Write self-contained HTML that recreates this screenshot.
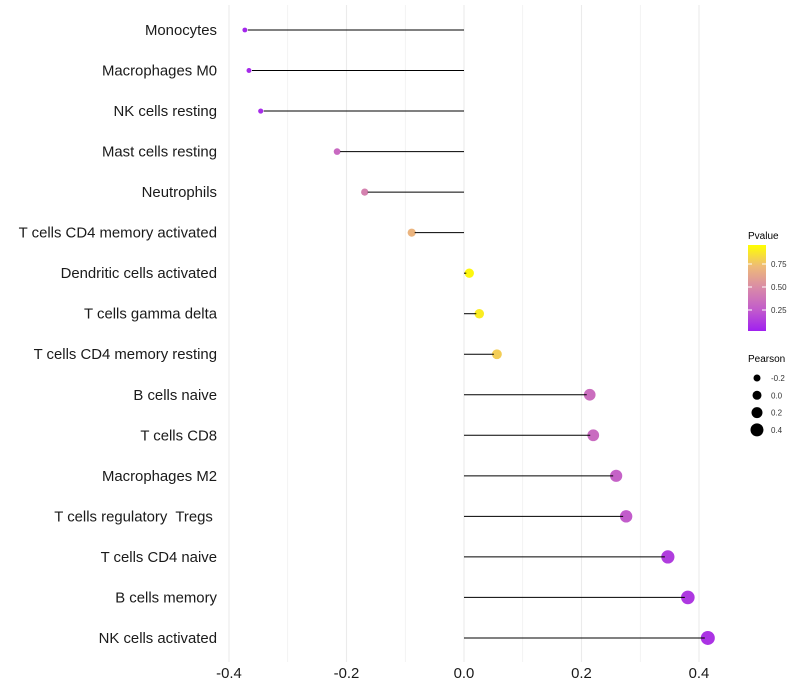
<!DOCTYPE html>
<html><head><meta charset="utf-8"><style>
body{margin:0;background:#fff;font-family:"Liberation Sans",sans-serif}
svg{display:block}
text{white-space:pre}
</style></head><body>
<svg id="chart" width="800" height="700" xmlns="http://www.w3.org/2000/svg">
<defs><linearGradient id="pg" x1="0" y1="1" x2="0" y2="0">
<stop offset="0" stop-color="#A020F0"/><stop offset="0.25" stop-color="#C25CCB"/><stop offset="0.5" stop-color="#D98AA8"/><stop offset="0.75" stop-color="#EEBA78"/><stop offset="1" stop-color="#FFFF00"/></linearGradient></defs>
<g id="grid"></g>
<g id="marks"></g>
<g id="ylabels"></g>
<g id="xlabels"></g>
<g>
<text x="748" y="239" font-size="10">Pvalue</text>
<rect x="748" y="245" width="18" height="86" fill="url(#pg)"/>
<g id="cbticks"></g>
</g>
<g id="sizelegend">
<text x="748" y="362" font-size="10">Pearson</text>
</g>
</svg>
<script>
const categories=["Monocytes","Macrophages M0","NK cells resting","Mast cells resting","Neutrophils","T cells CD4 memory activated","Dendritic cells activated","T cells gamma delta","T cells CD4 memory resting","B cells naive","T cells CD8","Macrophages M2","T cells regulatory  Tregs ","T cells CD4 naive","B cells memory","NK cells activated"];
const pearson=[-0.373,-0.366,-0.346,-0.216,-0.169,-0.089,0.009,0.026,0.056,0.214,0.220,0.259,0.276,0.347,0.381,0.415];
const pvalue=[0.03,0.04,0.05,0.32,0.45,0.72,0.97,0.93,0.82,0.34,0.33,0.28,0.25,0.12,0.10,0.08];
const xTicks=[-0.4,-0.2,0.0,0.2,0.4];
const xTickLabels=["-0.4","-0.2","0.0","0.2","0.4"];
const cbTicks=[0.25,0.5,0.75];
const sizeLegend=[-0.2,0.0,0.2,0.4];
const NS="http://www.w3.org/2000/svg";
function X(v){return 464+v*587.5;}
function Y(i){return 30+i*40.53;}
function R(v){return Math.max(2,4.6+5.8*v);}
function CB(p){return 333-p*92;}
const stops=[[0,[160,32,240]],[0.25,[194,92,203]],[0.5,[217,138,168]],[0.75,[238,186,120]],[1,[255,255,0]]];
function col(p){p=Math.max(0,Math.min(1,p));for(let k=1;k<stops.length;k++){if(p<=stops[k][0]){const a=stops[k-1],b=stops[k],t=(p-a[0])/(b[0]-a[0]);return "rgb("+a[1].map((c,j)=>Math.round(c+(b[1][j]-c)*t)).join(",")+")";}}return "rgb(255,255,0)";}
function mk(t,at,parent){const e=document.createElementNS(NS,t);for(const k in at)e.setAttribute(k,at[k]);parent.appendChild(e);return e;}
const grid=document.getElementById('grid');
for(let v=-0.4;v<=0.401;v+=0.1){const g=mk('line',{x1:X(v),x2:X(v),y1:5,y2:662,stroke:'#ebebeb','stroke-width':Math.abs(Math.round(v*10))%2===0?1.1:0.6},grid);

}
const marks=document.getElementById('marks'),yl=document.getElementById('ylabels');
categories.forEach((c,i)=>{
const v=pearson[i],y=Y(i);
const pt=mk('circle',{cx:X(v),cy:y,r:R(v),fill:col(pvalue[i])},marks);


const end=X(v)-Math.sign(v)*Math.min(3,Math.abs(X(v)-X(0)));
const ln=mk('line',{x1:X(0),x2:end,y1:y,y2:y,stroke:'#000','stroke-width':1},marks);


const t=mk('text',{x:217,y:y+5,'text-anchor':'end','font-size':14.9,fill:'#1a1a1a'},yl);t.textContent=c;


});
const xl=document.getElementById('xlabels');
xTicks.forEach((v,i)=>{const t=mk('text',{x:X(v),y:678,'text-anchor':'middle','font-size':14.9,fill:'#1a1a1a'},xl);t.textContent=xTickLabels[i];

});
const cb=document.getElementById('cbticks');
cbTicks.forEach(p=>{mk('line',{x1:748,x2:752,y1:CB(p),y2:CB(p),stroke:'#fff'},cb);mk('line',{x1:762,x2:766,y1:CB(p),y2:CB(p),stroke:'#fff'},cb);
const t=mk('text',{x:771,y:CB(p)+3,'font-size':8,fill:'#333'},cb);t.textContent=p.toFixed(2);

});
const sl=document.getElementById('sizelegend');
sizeLegend.forEach((v,i)=>{const y=378+i*17.3;const c=mk('circle',{cx:757,cy:y,r:3.5+i*1},sl);


const t=mk('text',{x:771,y:y+3,'font-size':8,fill:'#333'},sl);t.textContent=v.toFixed(1);

});
</script>
</body></html>
